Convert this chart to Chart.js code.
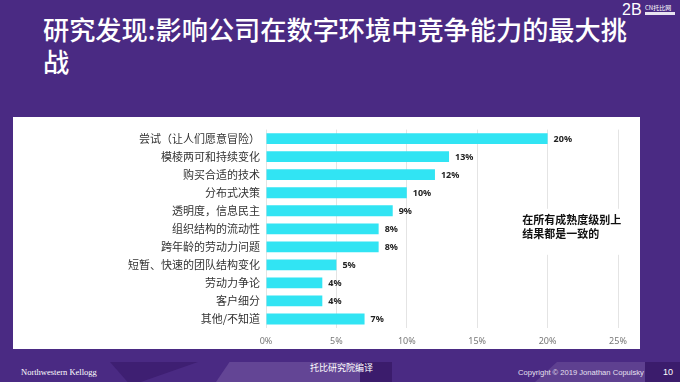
<!DOCTYPE html>
<html>
<head>
<meta charset="utf-8">
<script src="https://cdn.jsdelivr.net/npm/chart.js@4/dist/chart.umd.min.js"></script>
<style>
  html, body { margin: 0; padding: 0; }
  body { width: 680px; height: 382px; background: #4a2a83; position: relative; overflow: hidden;
         font-family: "Noto Sans CJK SC", "Noto Sans", sans-serif; }
  .title { position: absolute; left: 43px; top: 13px; width: 640px; color: #fff; white-space: nowrap;
           font-size: 26.2px; line-height: 32px; font-weight: 500; letter-spacing: 0px; }
  .panel { position: absolute; left: 13px; top: 117px; width: 627px; height: 232px; background: #fff; }
  #wrap { position: absolute; left: 13px; top: 117px; width: 627px; height: 232px; }
  .shape { position: absolute; }
  .ft { position: absolute; color: #fff; white-space: nowrap; }
</style>
</head>
<body>
<div class="shape" style="left:110px;top:362px;width:88px;height:20px;background:#3e1f72;clip-path:polygon(0 0,100% 0,35% 100%,20% 100%);"></div>
<div class="shape" style="left:216px;top:362px;width:150px;height:20px;background:#634595;clip-path:polygon(9% 0,100% 0,96% 100%,0 100%);"></div>
<div class="shape" style="left:360px;top:362px;width:32px;height:20px;background:#3b1c6c;clip-path:polygon(0 0,100% 0,100% 100%,0 100%);"></div>
<div class="shape" style="left:535px;top:362px;width:110px;height:20px;background:#5e4090;clip-path:polygon(20% 0,100% 0,100% 100%,0 100%);"></div>
<div class="shape" style="left:645px;top:362px;width:35px;height:20px;background:#3b1c6c;"></div>

<div class="title">研究发现:影响公司在数字环境中竞争能力的最大挑<br>战</div>

<div class="ft" style="left:622px;top:2px;font-family:'Liberation Sans',sans-serif;font-size:16px;line-height:16px;">2B</div>
<div class="ft" style="left:645px;top:4px;font-size:6px;line-height:7px;">CN托比网</div>
<div class="shape" style="left:645px;top:12px;width:30px;height:3px;background:#e8e4f0;"></div>

<div class="panel"></div>
<div id="wrap"><canvas id="c" width="627" height="232"></canvas></div>

<div class="ft" style="left:21px;top:366px;font-family:'Liberation Serif',serif;font-size:8.5px;line-height:12px;">Northwestern Kellogg</div>
<div class="ft" style="left:310px;top:362px;font-size:9px;line-height:12px;">托比研究院编译</div>
<div class="ft" style="left:518px;top:367px;font-family:'Liberation Sans',sans-serif;font-size:7.6px;line-height:12px;color:#e6e0f0;">Copyright © 2019 Jonathan Copulsky</div>
<div class="ft" style="left:663px;top:366px;font-family:'Liberation Sans',sans-serif;font-size:9px;line-height:12px;">10</div>

<script>
const categories = [
  "尝试（让人们愿意冒险）",
  "模棱两可和持续变化",
  "购买合适的技术",
  "分布式决策",
  "透明度，信息民主",
  "组织结构的流动性",
  "跨年龄的劳动力问题",
  "短暂、快速的团队结构变化",
  "劳动力争论",
  "客户细分",
  "其他/不知道"
];
const values = [20, 13, 12, 10, 9, 8, 8, 5, 4, 4, 7];
const xTicks = [0, 5, 10, 15, 20, 25];
const noteLines = ["在所有成熟度级别上", "结果都是一致的"];

const valueLabels = {
  id: 'valueLabels',
  afterDatasetsDraw(chart) {
    const ctx = chart.ctx;
    const meta = chart.getDatasetMeta(0);
    ctx.save();
    ctx.font = "bold 9px 'Noto Sans', 'Liberation Sans', sans-serif";
    ctx.fillStyle = '#222';
    ctx.textAlign = 'left';
    ctx.textBaseline = 'middle';
    meta.data.forEach((el, i) => {
      ctx.fillText(values[i] + '%', el.x + 6, el.y + 0.5);
    });
    ctx.restore();
  }
};

const note = {
  id: 'note',
  beforeDatasetsDraw(chart) {
    const ctx = chart.ctx;
    const x = chart.scales.x, y = chart.scales.y;
    const x0 = x.getPixelForValue(17.5), x1 = x.getPixelForValue(25.8);
    const yc = y.getPixelForValue(5);
    ctx.save();
    ctx.fillStyle = '#fff';
    ctx.fillRect(x0, yc - 20, x1 - x0, 46);
    ctx.restore();
  },
  afterDraw(chart) {
    const ctx = chart.ctx;
    const x = chart.scales.x, y = chart.scales.y;
    const tx = x.getPixelForValue(18.2);
    const ty = y.getPixelForValue(4.5);
    ctx.save();
    ctx.font = "bold 11px 'Noto Sans CJK SC', sans-serif";
    ctx.fillStyle = '#111';
    ctx.textAlign = 'left';
    ctx.textBaseline = 'middle';
    noteLines.forEach((t, i) => ctx.fillText(t, tx, ty + i * 14.5));
    ctx.restore();
  }
};

new Chart(document.getElementById('c'), {
  type: 'bar',
  data: {
    labels: categories,
    datasets: [{
      data: values,
      backgroundColor: '#31e4f3',
      borderWidth: 0,
      barPercentage: 0.6,
      categoryPercentage: 1
    }]
  },
  options: {
    indexAxis: 'y',
    responsive: false,
    animation: false,
    layout: { padding: { top: 4, right: 22, left: 0, bottom: 0 } },
    plugins: { legend: { display: false }, tooltip: { enabled: false } },
    scales: {
      x: {
        min: 0, max: 25,
        afterBuildTicks(scale) { scale.ticks = xTicks.map(v => ({ value: v })); },
        afterFit(scale) { scale.height = 21; },
        grid: { color: '#e4e4e4', drawTicks: false, lineWidth: 1 },
        border: { display: false },
        ticks: {
          padding: 8,
          color: '#777',
          font: { size: 9, family: "'Noto Sans', sans-serif" },
          callback: v => v + '%'
        }
      },
      y: {
        afterFit(scale) { scale.width = 253; },
        grid: { display: false, drawTicks: false },
        border: { display: false },
        ticks: {
          padding: 6,
          color: '#333',
          font: { size: 11, family: "'Noto Sans CJK SC', sans-serif" }
        }
      }
    }
  },
  plugins: [valueLabels, note]
});
</script>
</body>
</html>
